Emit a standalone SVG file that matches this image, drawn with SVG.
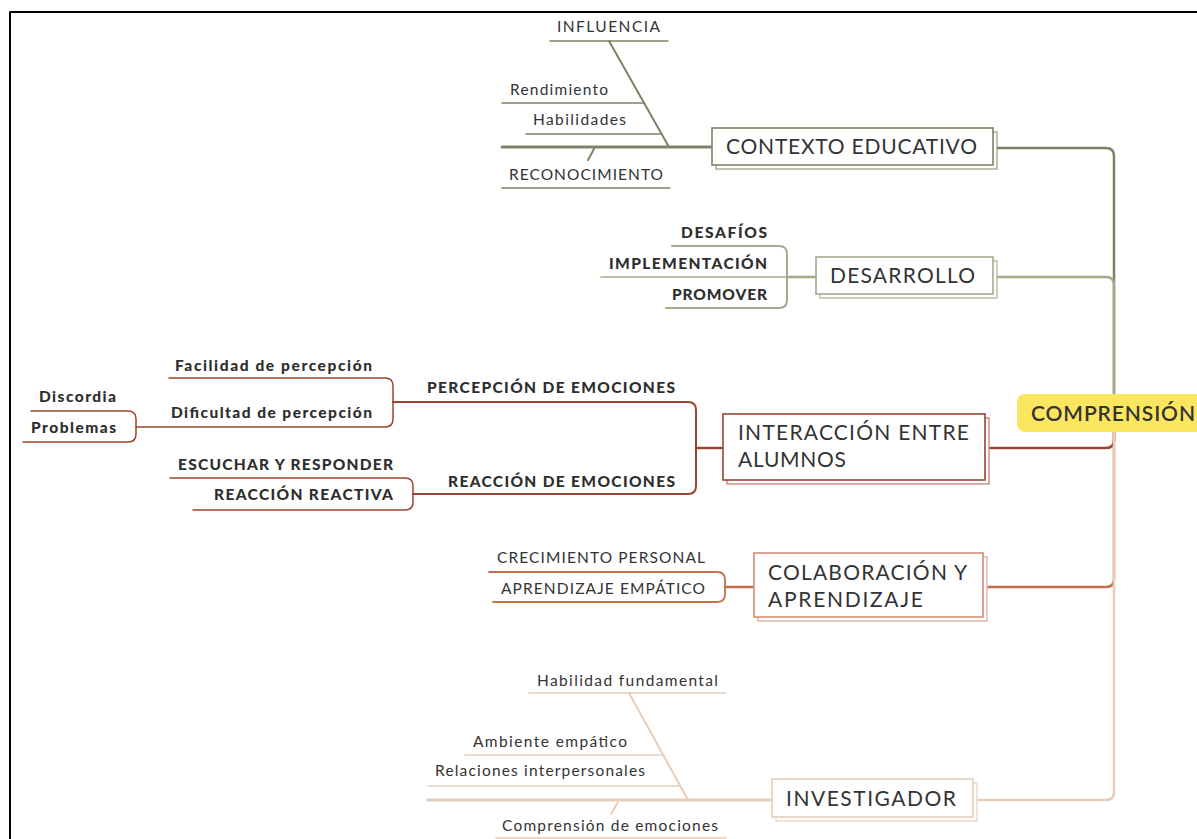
<svg xmlns="http://www.w3.org/2000/svg" width="1197" height="839" viewBox="0 0 1197 839">
<style>
  .lbl{font-family:Lato,"Open Sans","Liberation Sans",sans-serif;fill:#333;}
  .main{font-size:21px;fill:#333;}
  .sub{font-size:15.5px;}
  .b{font-weight:900;font-size:15.5px;fill:#2e2e2e;}
  .box{fill:#fff;stroke-width:1.6;}
  .shadow{fill:#fff;stroke-width:1.4;}
  path{fill:none;stroke-linecap:round;stroke-linejoin:round;}
  .g1{stroke:#7b8466;}
  .g2{stroke:#a6a98a;}
  .r1{stroke:#9c4431;}
  .r2{stroke:#c2714f;}
  .be{stroke:#e8cdb9;}
</style>
<rect x="0" y="0" width="1197" height="839" fill="#fff"/>
<g id="frame">
  <path d="M10,839 V12 H1197" style="stroke:#000;stroke-width:2;stroke-linecap:butt"/>
</g>
<g id="connectors">
  <path class="g1" d="M1114,413 V156 Q1114,148 1106,148 H993" stroke-width="2.5"/>
  <path class="g2" d="M1114,413 V285 Q1114,277 1106,277 H993" stroke-width="2.5"/>
  <path class="r1" d="M1114,413 V440 Q1114,448 1106,448 H985" stroke-width="2.5"/>
  <path class="r2" d="M1114,413 V579 Q1114,587 1106,587 H983" stroke-width="2.5"/>
  <path class="be" d="M1114,413 V792 Q1114,800 1106,800 H973" stroke-width="2.5"/>
  <!-- contexto fishbone -->
  <path class="g1" d="M502,147 H712" stroke-width="3"/>
  <path class="g1" d="M609,41 L669,147" stroke-width="2"/>
  <path class="g1" d="M550,41 H668" stroke-width="1.5"/>
  <path class="g1" d="M502,103 H644" stroke-width="1.5"/>
  <path class="g1" d="M526,134 H662" stroke-width="1.5"/>
  <path class="g1" d="M594,149 L588,160" stroke-width="2"/>
  <path class="g1" d="M502,188 H670" stroke-width="1.5"/>
  <!-- desarrollo -->
  <path class="g2" d="M816,277 H787" stroke-width="2.5"/>
  <path class="g2" d="M672,246 H779 Q787,246 787,254 V300 Q787,308 779,308 H666" stroke-width="2"/>
  <path class="g2" d="M601,277 H787" stroke-width="1.5"/>
  <!-- interaccion -->
  <path class="r1" d="M723,448 H696" stroke-width="2.5"/>
  <path class="r1" d="M393,402 H688 Q696,402 696,410 V486 Q696,494 688,494 H413" stroke-width="2"/>
  <path class="r1" d="M169,378 H385 Q393,378 393,386 V419 Q393,427 385,427 H136" stroke-width="1.5"/>
  <path class="r1" d="M31,411 H128 Q136,411 136,419 V434 Q136,442 128,442 H23" stroke-width="1.5"/>
  <path class="r1" d="M170,478 H405 Q413,478 413,486 V502 Q413,510 405,510 H193" stroke-width="1.5"/>
  <!-- colaboracion -->
  <path class="r2" d="M754,587 H725" stroke-width="2.5"/>
  <path class="r2" d="M489,572 H717 Q725,572 725,580 V594 Q725,602 717,602 H493" stroke-width="1.8"/>
  <!-- investigador fishbone -->
  <path class="be" d="M428,800 H772" stroke-width="3"/>
  <path class="be" d="M629,693 L688,800" stroke-width="2"/>
  <path class="be" d="M529,693 H726" stroke-width="1.5"/>
  <path class="be" d="M465,755 H663" stroke-width="1.5"/>
  <path class="be" d="M428,786 H680" stroke-width="1.5"/>
  <path class="be" d="M618,802 L611,814" stroke-width="2"/>
  <path class="be" d="M496,838 H726" stroke-width="1.5"/>
</g>
<g id="comprension">
  <rect x="1017" y="394" width="200" height="38" rx="8" fill="#fce660"/>
  <text class="lbl" x="1031" y="421" font-size="21" font-weight="600" fill="#222" textLength="164" lengthAdjust="spacing">COMPRENSIÓN</text>
</g>
<g id="contexto">
  <rect class="shadow" x="716" y="132" width="281" height="37" stroke="#7b8466" stroke-opacity="0.7"/>
  <rect class="box" x="712" y="128" width="281" height="37" stroke="#7b8466"/>
  <text class="lbl main" x="726" y="154" textLength="251" lengthAdjust="spacing">CONTEXTO EDUCATIVO</text>
</g>
<g id="contexto-subs">
  <text class="lbl sub" x="557" y="32" textLength="103" lengthAdjust="spacing">INFLUENCIA</text>
  <text class="lbl sub" x="510" y="95" textLength="98" lengthAdjust="spacing">Rendimiento</text>
  <text class="lbl sub" x="533" y="125" textLength="93" lengthAdjust="spacing">Habilidades</text>
  <text class="lbl sub" x="509" y="180" textLength="154" lengthAdjust="spacing">RECONOCIMIENTO</text>
</g>
<g id="desarrollo">
  <rect class="shadow" x="820" y="261" width="177" height="37" stroke="#a6a98a" stroke-opacity="0.8"/>
  <rect class="box" x="816" y="257" width="177" height="37" stroke="#a6a98a"/>
  <text class="lbl main" x="830" y="283" textLength="145" lengthAdjust="spacing">DESARROLLO</text>
</g>
<g id="desarrollo-subs">
  <text class="lbl b" x="681" y="238" textLength="86" lengthAdjust="spacing">DESAFÍOS</text>
  <text class="lbl b" x="609" y="269" textLength="158" lengthAdjust="spacing">IMPLEMENTACIÓN</text>
  <text class="lbl b" x="672" y="300" textLength="95" lengthAdjust="spacing">PROMOVER</text>
</g>
<g id="interaccion">
  <rect class="shadow" x="727" y="418" width="262" height="66" stroke="#c48a7c"/>
  <rect class="box" x="723" y="414" width="262" height="66" stroke="#9c4431"/>
  <text class="lbl main" x="738" y="440" textLength="231" lengthAdjust="spacing">INTERACCIÓN ENTRE</text>
  <text class="lbl main" x="738" y="467" textLength="108" lengthAdjust="spacing">ALUMNOS</text>
</g>
<g id="interaccion-subs">
  <text class="lbl b" x="427" y="393" textLength="248" lengthAdjust="spacing">PERCEPCIÓN DE EMOCIONES</text>
  <text class="lbl b" x="448" y="487" textLength="227" lengthAdjust="spacing">REACCIÓN DE EMOCIONES</text>
  <text class="lbl b" x="175" y="371" textLength="197" lengthAdjust="spacing">Facilidad de percepción</text>
  <text class="lbl b" x="171" y="418" textLength="201" lengthAdjust="spacing">Dificultad de percepción</text>
  <text class="lbl b" x="39" y="402" textLength="77" lengthAdjust="spacing">Discordia</text>
  <text class="lbl b" x="31" y="433" textLength="85" lengthAdjust="spacing">Problemas</text>
  <text class="lbl b" x="178" y="470" textLength="215" lengthAdjust="spacing">ESCUCHAR Y RESPONDER</text>
  <text class="lbl b" x="214" y="500" textLength="179" lengthAdjust="spacing">REACCIÓN REACTIVA</text>
</g>
<g id="colaboracion">
  <rect class="shadow" x="758" y="557" width="229" height="64" stroke="#e0b3a1"/>
  <rect class="box" x="754" y="553" width="229" height="64" stroke="#d08f75"/>
  <text class="lbl main" x="768" y="580" textLength="199" lengthAdjust="spacing">COLABORACIÓN Y</text>
  <text class="lbl main" x="768" y="607" textLength="155" lengthAdjust="spacing">APRENDIZAJE</text>
</g>
<g id="colaboracion-subs">
  <text class="lbl sub" x="497" y="563" textLength="208" lengthAdjust="spacing">CRECIMIENTO PERSONAL</text>
  <text class="lbl sub" x="501" y="594" textLength="204" lengthAdjust="spacing">APRENDIZAJE EMPÁTICO</text>
</g>
<g id="investigador">
  <rect class="shadow" x="776" y="783" width="201" height="38" stroke="#ecd6c6"/>
  <rect class="box" x="772" y="779" width="201" height="38" stroke="#e8cdb9"/>
  <text class="lbl main" x="786" y="806" textLength="170" lengthAdjust="spacing">INVESTIGADOR</text>
</g>
<g id="investigador-subs">
  <text class="lbl sub" x="537" y="686" textLength="181" lengthAdjust="spacing">Habilidad fundamental</text>
  <text class="lbl sub" x="473" y="747" textLength="154" lengthAdjust="spacing">Ambiente empático</text>
  <text class="lbl sub" x="435" y="776" textLength="210" lengthAdjust="spacing">Relaciones interpersonales</text>
  <text class="lbl sub" x="502" y="831" textLength="216" lengthAdjust="spacing">Comprensión de emociones</text>
</g>
</svg>
